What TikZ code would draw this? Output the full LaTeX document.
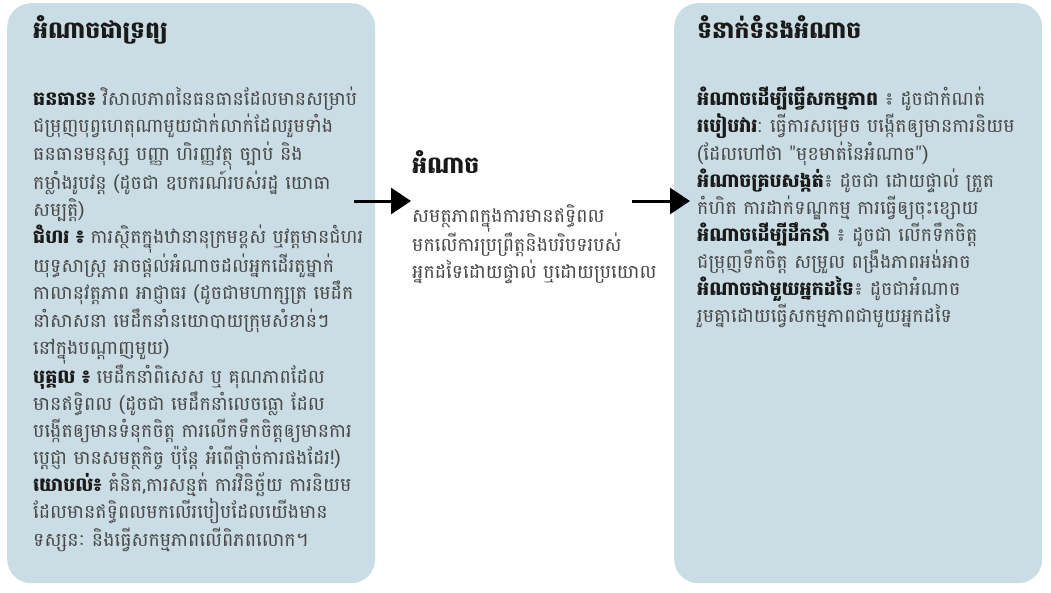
\documentclass[tikz,border=0pt]{standalone}
\usepackage{fontspec}
\newfontfamily\kh[Script=Khmer]{Battambang}
\usetikzlibrary{arrows.meta}
\definecolor{boxbg}{RGB}{202,221,229}
\definecolor{bodytxt}{RGB}{72,72,72}
\definecolor{headtxt}{RGB}{26,26,26}
\tikzset{
  panel/.style={fill=boxbg, draw=none, rounded corners=24pt, inner sep=0pt},
  heading/.style={anchor=north west, inner sep=0pt, text=headtxt, font=\kh\bfseries\fontsize{23.5}{28}\selectfont},
  bodytext/.style={anchor=north west, inner sep=0pt, align=left, text=bodytxt, font=\kh\fontsize{19}{27.1}\selectfont},
  flow/.style={line width=3pt, -{Triangle[length=20pt,width=26pt]}}
}
\newcommand{\lb}[1]{{\bfseries\color{headtxt}#1}}
\newcommand{\fixedlines}{\lineskiplimit=-100pt\lineskip=0pt\relax}
\begin{document}
\begin{tikzpicture}[x=1pt,y=-1pt]
\useasboundingbox (0,0) rectangle (1051,592);
\node[panel, minimum width=368pt, minimum height=580pt, anchor=north west] (leftbox) at (7,3) {};
\node[panel, minimum width=368pt, minimum height=580pt, anchor=north west] (rightbox) at (674,3) {};

\node[heading] (lefthead) at (33,15) {អំណាចជាទ្រព្យ};
\node[bodytext] (leftbody) at (33,87) {\fixedlines
\lb{ធនធាន៖} វិសាលភាពនៃធនធានដែលមានសម្រាប់\\
ជម្រុញបុព្វហេតុណាមួយជាក់លាក់ដែលរួមទាំង\\
ធនធានមនុស្ស បញ្ញា ហិរញ្ញវត្ថុ ច្បាប់ និង\\
កម្លាំងរូបវន្ត (ដូចជា ឧបករណ៍របស់រដ្ឋ យោធា\\
សម្បត្តិ)\\
\lb{ជំហរ ៖} ការស្ថិតក្នុងឋានានុក្រមខ្ពស់ ឬវត្តមានជំហរ\\
យុទ្ធសាស្ត្រ អាចផ្តល់អំណាចដល់អ្នកដើរតួម្នាក់\\
កាលានុវត្តភាព អាជ្ញាធរ (ដូចជាមហាក្សត្រ មេដឹក\\
នាំសាសនា មេដឹកនាំនយោបាយក្រុមសំខាន់ៗ\\
នៅក្នុងបណ្តាញមួយ)\\
\lb{បុគ្គល ៖} មេដឹកនាំពិសេស ឬ គុណភាពដែល\\
មានឥទ្ធិពល (ដូចជា មេដឹកនាំលេចធ្លោ ដែល\\
បង្កើតឲ្យមានទំនុកចិត្ត ការលើកទឹកចិត្តឲ្យមានការ\\
ប្តេជ្ញា មានសមត្ថកិច្ច ប៉ុន្តែ អំពើផ្តាច់ការផងដែរ!)\\
\lb{យោបល់៖} គំនិត,ការសន្មត់ ការវិនិច្ឆ័យ ការនិយម\\
ដែលមានឥទ្ធិពលមកលើរបៀបដែលយើងមាន\\
ទស្សនៈ និងធ្វើសកម្មភាពលើពិភពលោក។};

\node[heading] (midhead) at (412,150) {អំណាច};
\node[bodytext] (midbody) at (412,204) {\fixedlines
សមត្ថភាពក្នុងការមានឥទ្ធិពល\\
មកលើការប្រព្រឹត្តនិងបរិបទរបស់\\
អ្នកដទៃដោយផ្ទាល់ ឬដោយប្រយោល};

\node[heading] (righthead) at (697,15) {ទំនាក់ទំនងអំណាច};
\node[bodytext] (rightbody) at (697,87) {\fixedlines
\lb{អំណាចដើម្បីធ្វើសកម្មភាព} ៖ ដូចជាកំណត់\\
\lb{របៀបវារ}: ធ្វើការសម្រេច បង្កើតឲ្យមានការនិយម\\
(ដែលហៅថា "មុខមាត់នៃអំណាច")\\
\lb{អំណាចគ្របសង្កត់}៖ ដូចជា ដោយផ្ទាល់ ត្រួត\\
កំហិត ការដាក់ទណ្ឌកម្ម ការធ្វើឲ្យចុះខ្សោយ\\
\lb{អំណាចដើម្បីដឹកនាំ} ៖ ដូចជា លើកទឹកចិត្ត\\
ជម្រុញទឹកចិត្ត សម្រួល ពង្រឹងភាពអង់អាច\\
\lb{អំណាចជាមួយអ្នកដទៃ}៖ ដូចជាអំណាច\\
រួមគ្នាដោយធ្វើសកម្មភាពជាមួយអ្នកដទៃ};

\coordinate (a1s) at (354,201);
\coordinate (a1e) at (411,201);
\coordinate (a2s) at (632,201);
\coordinate (a2e) at (690,201);
\draw[flow] (a1s) -- (a1e);
\draw[flow] (a2s) -- (a2e);
\end{tikzpicture}
\end{document}
